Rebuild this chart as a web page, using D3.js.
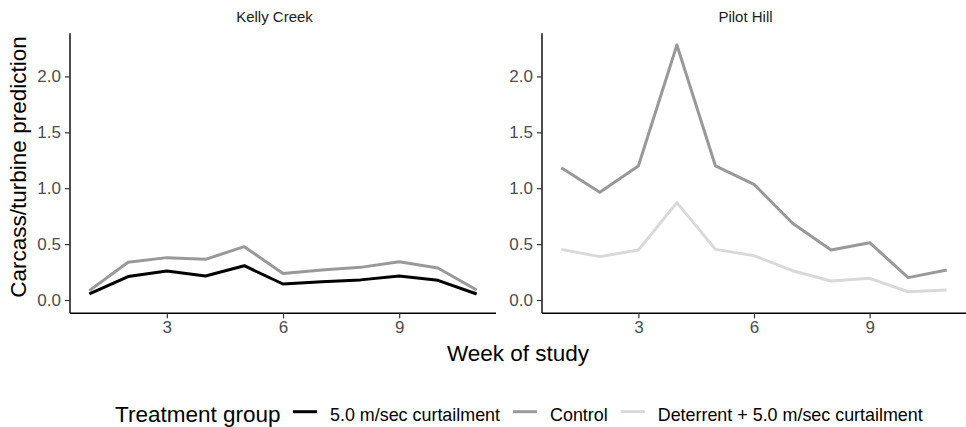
<!DOCTYPE html>
<html>
<head>
<meta charset="utf-8">
<script src="https://cdn.jsdelivr.net/npm/d3@7"></script>
<style>
  html, body { margin: 0; padding: 0; background: #fff; }
  svg { display: block; font-family: "Liberation Sans", Arial, Helvetica, sans-serif; }
</style>
</head>
<body>
<svg id="chart" width="966" height="427"></svg>
<script>
// ---- data ----
const weeks = [1, 2, 3, 4, 5, 6, 7, 8, 9, 10, 11];
const sites = ["Kelly Creek", "Pilot Hill"];
const groups = ["5.0 m/sec curtailment", "Control", "Deterrent + 5.0 m/sec curtailment"];
const kellyCurtail = [0.054, 0.21, 0.26, 0.215, 0.307, 0.143, 0.164, 0.18, 0.215, 0.176, 0.054];
const kellyControl = [0.084, 0.337, 0.379, 0.364, 0.477, 0.238, 0.268, 0.292, 0.343, 0.286, 0.089];
const pilotControl = [1.183, 0.963, 1.199, 2.281, 1.199, 1.035, 0.686, 0.447, 0.513, 0.2, 0.268];
const pilotDeterrent = [0.453, 0.388, 0.447, 0.871, 0.453, 0.397, 0.262, 0.17, 0.194, 0.074, 0.089];
const xTicks = [3, 6, 9];
const yTicks = [0, 0.5, 1.0, 1.5, 2.0];
const xTitle = "Week of study";
const yTitle = "Carcass/turbine prediction";
const legendTitle = "Treatment group";

const seriesBySite = {
  "Kelly Creek": [
    { group: groups[0], values: kellyCurtail },
    { group: groups[1], values: kellyControl }
  ],
  "Pilot Hill": [
    { group: groups[1], values: pilotControl },
    { group: groups[2], values: pilotDeterrent }
  ]
};

// ---- styles ----
const color = d3.scaleOrdinal().domain(groups).range(["#000000", "#999999", "#d9d9d9"]);
const panels = [
  { site: sites[0], x0: 70, x1: 496 },
  { site: sites[1], x0: 542, x1: 966 }
];
const plotTop = 33.3, plotBottom = 313.3;
const y = d3.scaleLinear().domain([-0.119, 2.386]).range([plotBottom, plotTop]);
const FONT = "Liberation Sans, Arial, sans-serif";

const svg = d3.select("#chart");

panels.forEach(p => {
  const x = d3.scaleLinear().domain([0.5, 11.5]).range([p.x0, p.x1]);
  const g = svg.append("g");

  // strip title
  g.append("text")
    .attr("x", (p.x0 + p.x1) / 2 - 8.5)
    .attr("y", 22)
    .attr("text-anchor", "middle")
    .attr("font-size", "15px")
    .attr("fill", "#1a1a1a")
    .text(p.site);

  // lines
  const line = d3.line().x((d, i) => x(weeks[i])).y(d => y(d));
  seriesBySite[p.site].forEach(s => {
    g.append("path")
      .datum(s.values)
      .attr("d", line)
      .attr("fill", "none")
      .attr("stroke", color(s.group))
      .attr("stroke-width", 3)
      .attr("stroke-linejoin", "round");
  });

  // x axis
  const xa = g.append("g")
    .attr("transform", `translate(0,${plotBottom})`)
    .call(d3.axisBottom(x).tickValues(xTicks).tickFormat(d3.format("d")).tickSize(5).tickPadding(3));
  xa.select(".domain").attr("stroke", "#000").attr("stroke-width", 1.4).attr("d", `M${p.x0},0H${p.x1}`);
  xa.selectAll(".tick line").attr("stroke", "#333").attr("stroke-width", 1.2);
  xa.selectAll(".tick text").attr("font-size", "17px").attr("fill", "#4d4d4d").attr("font-family", FONT);

  // y axis
  const ya = g.append("g")
    .attr("transform", `translate(${p.x0},0)`)
    .call(d3.axisLeft(y).tickValues(yTicks).tickFormat(d3.format(".1f")).tickSize(5).tickPadding(4));
  ya.select(".domain").attr("stroke", "#000").attr("stroke-width", 1.4).attr("d", `M0,${plotTop}V${plotBottom}`);
  ya.selectAll(".tick line").attr("stroke", "#333").attr("stroke-width", 1.2);
  ya.selectAll(".tick text").attr("font-size", "17px").attr("fill", "#4d4d4d").attr("font-family", FONT);
});

// axis titles
svg.append("text")
  .attr("x", 518).attr("y", 361)
  .attr("text-anchor", "middle")
  .attr("font-size", "22.5px")
  .attr("fill", "#000")
  .text(xTitle);

svg.append("text")
  .attr("transform", "translate(26,167) rotate(-90)")
  .attr("text-anchor", "middle")
  .attr("font-size", "22.5px")
  .attr("fill", "#000")
  .text(yTitle);

// legend
const lg = svg.append("g");
const legY = 411.7, legBase = 421.5;
lg.append("text")
  .attr("x", 115).attr("y", legBase)
  .attr("font-size", "22.5px")
  .attr("fill", "#000")
  .text(legendTitle);

let cx = 293;
groups.forEach(gname => {
  lg.append("line")
    .attr("x1", cx).attr("x2", cx + 24)
    .attr("y1", legY).attr("y2", legY)
    .attr("stroke", color(gname))
    .attr("stroke-width", 3);
  const t = lg.append("text")
    .attr("x", cx + 37).attr("y", legBase - 0.5)
    .attr("font-size", "17.9px")
    .attr("fill", "#000")
    .text(gname);
  cx = cx + 37 + t.node().getComputedTextLength() + 13;
});
</script>
</body>
</html>
